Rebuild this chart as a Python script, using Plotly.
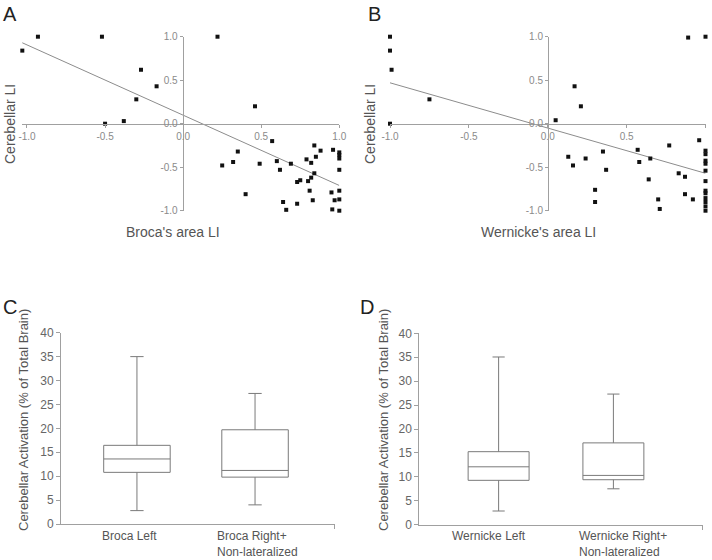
import plotly.graph_objects as go

W, H = 712, 560
FONT = "Liberation Sans, Arial, sans-serif"

# ---------------- data ----------------
# Panel A: Broca's area LI vs Cerebellar LI
broca_x = [-1.03, -0.93, -0.52, -0.50, -0.38, -0.30, -0.27, -0.17, 0.22, 0.46,
           0.57, 0.25, 0.32, 0.35, 0.40, 0.49, 0.60, 0.62, 0.64, 0.66,
           0.69, 0.73, 0.73, 0.75, 0.79, 0.80, 0.81, 0.82, 0.82, 0.83,
           0.84, 0.84, 0.85, 0.88, 0.95, 0.955, 0.96, 0.97,
           1.0, 1.0, 1.0, 1.0, 1.0, 1.0, 1.0]
broca_cb = [0.84, 1.0, 1.0, 0.0, 0.03, 0.28, 0.62, 0.43, 1.0, 0.20,
            -0.20, -0.48, -0.44, -0.32, -0.81, -0.46, -0.43, -0.53, -0.90, -0.99,
            -0.46, -0.92, -0.67, -0.65, -0.41, -0.66, -0.77, -0.62, -0.45, -0.88,
            -0.57, -0.25, -0.38, -0.31, -0.79, -0.985, -0.30, -0.88,
            -0.33, -0.36, -0.40, -0.53, -0.77, -0.87, -1.0]
broca_fit_x = [-1.03, 1.0]
broca_fit_y = [0.93, -0.71]

# Panel B: Wernicke's area LI vs Cerebellar LI
wern_x = [-1.0, -1.0, -0.99, -1.0, -0.75, 0.05, 0.17, 0.21, 0.13, 0.16,
          0.24, 0.30, 0.30, 0.35, 0.37, 0.57, 0.58, 0.64, 0.65, 0.70,
          0.71, 0.77, 0.83, 0.87, 0.87, 0.92, 0.89, 1.0, 0.96,
          1.0, 1.0, 1.0, 1.0, 1.0, 1.0, 1.0, 1.0, 1.0, 1.0, 1.0, 1.0]
wern_cb = [1.0, 0.84, 0.62, 0.0, 0.28, 0.04, 0.43, 0.20, -0.38, -0.48,
           -0.40, -0.76, -0.90, -0.32, -0.53, -0.30, -0.44, -0.64, -0.40, -0.87,
           -0.98, -0.25, -0.57, -0.81, -0.61, -0.87, 0.99, 1.0, -0.19,
           -0.31, -0.35, -0.425, -0.46, -0.54, -0.66, -0.77, -0.80, -0.855, -0.90, -0.95, -1.0]
wern_fit_x = [-1.0, 1.0]
wern_fit_y = [0.47, -0.57]

li_ticks = [-1.0, -0.5, 0.0, 0.5, 1.0]
li_ticktext = ["-1.0", "-0.5", "0.0", "0.5", "1.0"]

# Panel C: Broca groups (box summary statistics)
broca_groups = ["Broca Left", "Broca Right+<br>Non-lateralized"]
broca_low = [2.8, 4.0]
broca_q1 = [10.8, 9.8]
broca_med = [13.6, 11.2]
broca_q3 = [16.45, 19.7]
broca_high = [35.0, 27.3]

# Panel D: Wernicke groups
wern_groups = ["Wernicke Left", "Wernicke Right+<br>Non-lateralized"]
wern_low = [2.86, 7.5]
wern_q1 = [9.27, 9.4]
wern_med = [12.1, 10.3]
wern_q3 = [15.26, 17.1]
wern_high = [35.05, 27.3]

act_ticks = [0, 5, 10, 15, 20, 25, 30, 35, 40]

# ---------------- helpers ----------------
def px_x(p):
    return p / W

def px_y(p):
    return 1 - p / H

fig = go.Figure()

# scatter panels
for xs, ys, fx, fy, xa, ya in [
    (broca_x, broca_cb, broca_fit_x, broca_fit_y, "x", "y"),
    (wern_x, wern_cb, wern_fit_x, wern_fit_y, "x2", "y2"),
]:
    fig.add_trace(go.Scatter(x=fx, y=fy, mode="lines", xaxis=xa, yaxis=ya,
                             line=dict(color="#8c8c8c", width=1),
                             cliponaxis=False, showlegend=False, hoverinfo="skip"))
    fig.add_trace(go.Scatter(x=xs, y=ys, mode="markers", xaxis=xa, yaxis=ya,
                             marker=dict(symbol="square", size=4, color="#111111",
                                         line=dict(width=0)),
                             cliponaxis=False, showlegend=False))

# box panels
box_pos = [0, 1]
for low, q1, med, q3, high, xa, ya, wid in [
    (broca_low, broca_q1, broca_med, broca_q3, broca_high, "x3", "y3", 0.563),
    (wern_low, wern_q1, wern_med, wern_q3, wern_high, "x4", "y4", 0.531),
]:
    fig.add_trace(go.Box(x=box_pos, q1=q1, median=med, q3=q3,
                         lowerfence=low, upperfence=high,
                         xaxis=xa, yaxis=ya, width=wid,
                         fillcolor="white", line=dict(color="#7a7a7a", width=1),
                         whiskerwidth=0.2, boxpoints=False, showlegend=False))

sc_common = dict(tickvals=li_ticks, ticktext=li_ticktext,
                 showgrid=False, zeroline=False, showline=True, automargin=False,
                 linecolor="#a0a0a0", linewidth=1, ticks="outside", ticklen=3,
                 tickcolor="#a0a0a0", tickfont=dict(family=FONT, size=10, color="#8a8a8a"),
                 anchor="free", fixedrange=True)

yA_dom = [px_y(210.7), px_y(36.7)]
x_pos = px_y(124)

box_y_common = dict(range=[0, 40], tickvals=act_ticks, showgrid=False, zeroline=False,
                    showline=True, linecolor="#a0a0a0", linewidth=1, ticks="outside",
                    ticklen=4, tickcolor="#a0a0a0", automargin=False,
                    tickfont=dict(family=FONT, size=12, color="#666666"), fixedrange=True)

c_range = [-0.643, 1.677]
d_range = [-0.691, 1.778]

box_x_common = dict(showgrid=False, zeroline=False, showline=True, linecolor="#a0a0a0",
                    ticks="outside", ticklen=4, tickcolor="#a0a0a0", automargin=False,
                    fixedrange=True)

A_xr = [-1.035, 1.0]
A_px = [27 - 0.035 * 156.3, 339.3]

fig.update_layout(
    template="none",
    width=W, height=H, margin=dict(l=0, r=0, t=0, b=0, pad=0), autosize=False,
    paper_bgcolor="white", plot_bgcolor="white", showlegend=False,
    font=dict(family=FONT, color="#444444"),
    xaxis=dict(domain=[px_x(A_px[0]), px_x(A_px[1])], range=A_xr, position=x_pos, **sc_common),
    yaxis=dict(domain=yA_dom, range=[-1, 1], position=px_x(182.7), **sc_common),
    xaxis2=dict(domain=[px_x(390), px_x(705.5)], range=[-1, 1], position=x_pos, **sc_common),
    yaxis2=dict(domain=yA_dom, range=[-1, 1], position=px_x(548), **sc_common),
    xaxis3=dict(domain=[px_x(61), px_x(335)], range=c_range, anchor="y3",
                tickvals=[c_range[1] - 0.002], ticktext=[""], **box_x_common),
    yaxis3=dict(domain=[px_y(524), px_y(332.7)], anchor="x3", **box_y_common),
    xaxis4=dict(domain=[px_x(419.3), px_x(702.7)], range=d_range, anchor="y4",
                tickvals=[d_range[1] - 0.002], ticktext=[""], **box_x_common),
    yaxis4=dict(domain=[px_y(524.7), px_y(333.3)], anchor="x4", **box_y_common),
)

ann = []
# panel letters
for letter, x, y in [("A", 1, 1), ("B", 366, 1), ("C", 1, 294), ("D", 358, 294)]:
    ann.append(dict(text=letter, xref="paper", yref="paper", x=px_x(x), y=px_y(y),
                    xanchor="left", yanchor="top", showarrow=False,
                    font=dict(family=FONT, size=20, color="#222222")))
# scatter axis titles
for txt, x, y, ang in [("Cerebellar LI", 10, 124, -90), ("Cerebellar LI", 370, 124, -90),
                       ("Broca's area LI", 173, 232, 0), ("Wernicke's area LI", 538, 232, 0)]:
    ann.append(dict(text=txt, xref="paper", yref="paper", x=px_x(x), y=px_y(y),
                    xanchor="center", yanchor="middle", textangle=ang, showarrow=False,
                    font=dict(family=FONT, size=14, color="#555555")))
# box y titles
for x in [23, 383]:
    ann.append(dict(text="Cerebellar Activation (% of Total Brain)", xref="paper", yref="paper",
                    x=px_x(x), y=px_y(420), xanchor="center", yanchor="middle",
                    textangle=-90, showarrow=False,
                    font=dict(family=FONT, size=13, color="#555555")))
# category labels
for groups, xa, shifts in [(broca_groups, "x3", [-7, 2]), (wern_groups, "x4", [-10, 10])]:
    for i, g in enumerate(groups):
        ann.append(dict(text=g, xref=xa, yref="paper", x=box_pos[i], y=px_y(527),
                        xanchor="center", yanchor="top", align="left", xshift=shifts[i],
                        showarrow=False,
                        font=dict(family=FONT, size=12, color="#555555")))
fig.update_layout(annotations=ann)

fig.write_html("out.html", config={"displayModeBar": False},
               post_script="document.body.style.margin='0';document.body.style.overflow='hidden';")
